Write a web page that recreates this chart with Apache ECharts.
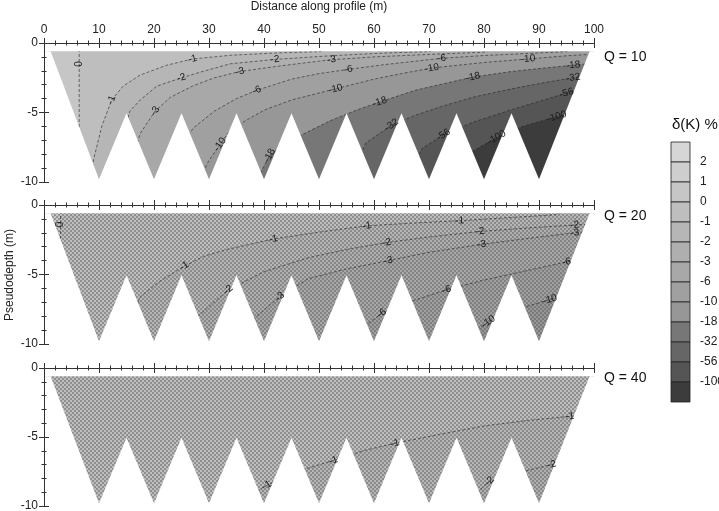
<!DOCTYPE html>
<html>
<head>
<meta charset="utf-8">
<script src="https://cdn.jsdelivr.net/npm/echarts@6/dist/echarts.min.js"></script>
<style>
  html, body { margin: 0; padding: 0; background: #fff; }
  #chart { width: 719px; height: 511px; }
</style>
</head>
<body>
<div id="chart"></div>
<script>
// contour levels of the colour scale, top to bottom
var levels = [2, 1, 0, -1, -2, -3, -6, -10, -18, -32, -56, -100];
var bandColors = ['#d6d6d6', '#cecece', '#c6c6c6', '#bebebe', '#b6b6b6', '#afafaf', '#a8a8a8',
                  '#a0a0a0', '#979797', '#777777', '#666666', '#555555', '#3c3c3c'];

// electrode layout of the pseudosection (sawtooth bottom)
var toothTips = [10, 20, 30, 40, 50, 60, 70, 80, 90];
var notchTops = [15, 25, 35, 45, 55, 65, 75, 85];
var domainTop = -0.6, tipDepth = -9.8, notchDepth = -5.05, leftTopX = 1.2, rightTopX = 99.2;

// Q = 10
var q10Levels = [0, -1, -2, -3, -6, -10, -18, -32, -56, -100];
var q10Contours = [
  [[6.4, -10], [6.4, 0]],
  [[8.6, -10], [9.0, -8.4], [10.5, -6.0], [12.3, -4.1], [14.4, -3.1], [17.5, -2.3], [22.3, -1.6], [27, -1.15], [34, -0.88], [42, -0.72], [50, -0.62], [56, 0]],
  [[13.5, -10], [15.2, -5.5], [15.6, -4.9], [17.5, -4.1], [20.5, -3.1], [25, -2.5], [28.4, -2.1], [33.8, -1.5], [42, -1.18], [52, -0.92], [62, -0.72], [70, -0.62], [74, 0]],
  [[15.5, -10], [16.5, -7.8], [17.5, -6.5], [20.2, -4.9], [23, -3.9], [27, -3.1], [31, -2.5], [35.6, -2.05], [42, -1.7], [47, -1.45], [52.3, -1.2], [60, -1.0], [70, -0.82], [80, -0.66], [84, 0]],
  [[23, -10], [26.3, -6.6], [27.2, -6.1], [31, -4.9], [35, -4.0], [38.7, -3.4], [45, -2.6], [50, -2.2], [55.3, -1.9], [62, -1.55], [72.3, -1.1], [80, -0.9], [88, -0.75], [95, -0.62], [97, 0]],
  [[28.5, -10], [29.6, -8.7], [32, -7.3], [33.8, -6.3], [37, -5.5], [40.2, -4.8], [45, -4.1], [53, -3.3], [60, -2.6], [65, -2.2], [70.5, -1.8], [80, -1.4], [88, -1.15], [95, -0.92], [100, -0.8]],
  [[38.5, -10], [41, -8.1], [44, -7.2], [46.9, -6.6], [52, -5.6], [57, -4.8], [61, -4.25], [67.5, -3.4], [73, -2.9], [78, -2.45], [85, -2.05], [91, -1.8], [96.2, -1.6], [100, -1.45]],
  [[55.5, -10], [58.5, -7.2], [63.2, -5.9], [67.5, -5.2], [72, -4.6], [78, -3.9], [85, -3.3], [91, -2.85], [96.2, -2.5], [100, -2.3]],
  [[66, -10], [68.7, -7.6], [72.6, -6.6], [78, -5.7], [85, -4.8], [90, -4.2], [95, -3.6], [100, -3.1]],
  [[75, -10], [77, -8.0], [82.3, -6.8], [87, -6.0], [93.2, -5.3], [100, -4.6]]
];
var q10Labels = [
  [0, 6.4, -1.5], [-1, 12.3, -4.1], [-1, 27, -1.15], [-2, 25, -2.5], [-2, 42, -1.2],
  [-3, 20.2, -4.9], [-3, 35.6, -2.05], [-3, 52.3, -1.2], [-6, 38.7, -3.4], [-6, 55.3, -1.9],
  [-6, 72.3, -1.1], [-10, 32, -7.3], [-10, 53, -3.3], [-10, 70.5, -1.8], [-10, 88, -1.15],
  [-18, 41, -8.1], [-18, 61, -4.2], [-18, 78, -2.45], [-18, 96.2, -1.6], [-32, 63.2, -5.9],
  [-32, 96.2, -2.5], [-56, 72.6, -6.6], [-56, 95, -3.6], [-100, 82.3, -6.8], [-100, 93.2, -5.3]
];

// Q = 20
var q20Levels = [0, -1, -2, -3, -6, -10];
var q20Contours = [
  [[3.0, -10], [3.0, 0]],
  [[14, -10], [17.5, -6.6], [21, -5.5], [25.5, -4.4], [29, -3.7], [33.2, -3.2], [41.7, -2.45], [50, -1.95], [58.7, -1.5], [67, -1.3], [75.6, -1.13], [85, -0.9], [93, -0.7], [97, 0]],
  [[24, -10], [28, -8], [33.5, -6.1], [40, -4.8], [48, -3.8], [55, -3.2], [62.3, -2.7], [70, -2.3], [79.3, -1.9], [88, -1.65], [96.5, -1.44], [100, -1.35]],
  [[35, -10], [38, -8.2], [42.9, -6.6], [48, -5.3], [55, -4.6], [62.6, -4.0], [70, -3.4], [79.6, -2.83], [88, -2.4], [96.5, -2.0], [100, -1.85]],
  [[55, -10], [58, -8.8], [61.4, -7.8], [67, -6.9], [73.2, -6.1], [80, -5.4], [88, -4.7], [95, -4.1], [100, -3.8]],
  [[75, -10], [80.8, -8.4], [86, -7.5], [92, -6.8], [100, -6.0]]
];
var q20Labels = [
  [0, 3.0, -1.4], [-1, 25.5, -4.4], [-1, 41.7, -2.45], [-1, 58.7, -1.5], [-1, 75.6, -1.13],
  [-2, 33.5, -6.1], [-2, 62.3, -2.7], [-2, 79.3, -1.9], [-2, 96.5, -1.44], [-3, 42.9, -6.6],
  [-3, 62.6, -4.0], [-3, 79.6, -2.83], [-3, 96.5, -2.0], [-6, 61.4, -7.8], [-6, 73.2, -6.1],
  [-6, 95, -4.1], [-10, 80.8, -8.4], [-10, 92, -6.8]
];

// Q = 40
var q40Levels = [-1, -2];
var q40Contours = [
  [[34, -10], [40.5, -8.5], [46, -7.5], [52.6, -6.7], [58, -6.0], [63.8, -5.45], [72, -4.8], [80, -4.2], [88, -3.8], [95.6, -3.5], [100, -3.3]],
  [[76, -10], [81, -8.2], [86, -7.6], [92.3, -7.0], [100, -6.4]]
];
var q40Labels = [
  [-1, 40.5, -8.5], [-1, 52.6, -6.7], [-1, 63.8, -5.45], [-1, 95.6, -3.5], [-2, 81, -8.2], [-2, 92.3, -7.0]
];

var panels = [
  { q: 'Q = 10', levels: q10Levels, contours: q10Contours, labels: q10Labels, base: 2, dots: false },
  { q: 'Q = 20', levels: q20Levels, contours: q20Contours, labels: q20Labels, base: 2, dots: true },
  { q: 'Q = 40', levels: q40Levels, contours: q40Contours, labels: q40Labels, base: 3, dots: true }
];

var FONT = 'Liberation Sans, Arial, Helvetica, sans-serif';

// halftone dot pattern for the stippled panels
var patternCache = {};
function dotPattern(base) {
  if (patternCache[base]) return patternCache[base];
  var c = document.createElement('canvas');
  c.width = 4; c.height = 4;
  var g = c.getContext('2d');
  g.fillStyle = base; g.fillRect(0, 0, 4, 4);
  g.fillStyle = '#555';
  g.beginPath(); g.arc(1, 1, 0.8, 0, Math.PI * 2); g.fill();
  g.beginPath(); g.arc(3, 3, 0.8, 0, Math.PI * 2); g.fill();
  patternCache[base] = { image: c, repeat: 'repeat' };
  return patternCache[base];
}
function colorFor(band, dots) {
  return dots ? dotPattern(bandColors[band]) : bandColors[band];
}

// white masks outside the sawtooth domain
var maskPolys = [
  [[0, 0], [100, 0], [100, domainTop], [0, domainTop]],
  [[0, domainTop], [leftTopX, domainTop], [toothTips[0], tipDepth], [toothTips[0], -10], [0, -10]],
  [[toothTips[toothTips.length - 1], tipDepth], [rightTopX, domainTop], [100, domainTop], [100, -10], [toothTips[toothTips.length - 1], -10]]
];
notchTops.forEach(function (n) {
  maskPolys.push([[n - 5, tipDepth], [n, notchDepth], [n + 5, tipDepth], [n + 5, -10], [n - 5, -10]]);
});

var grids = [
  { left: 44, top: 43, width: 550, height: 139, outerBoundsMode: 'none' },
  { left: 44, top: 205, width: 550, height: 139, outerBoundsMode: 'none' },
  { left: 44, top: 368, width: 550, height: 138, outerBoundsMode: 'none' },
  { left: 671, top: 142, width: 19, height: 260, outerBoundsMode: 'none' }
];

var xAxes = [], yAxes = [], series = [];
var axisLine = { lineStyle: { color: '#333', width: 1 } };

panels.forEach(function (panel, p) {
  ['top', 'bottom'].forEach(function (pos) {
    xAxes.push({
      gridIndex: p, type: 'value', position: pos, min: 0, max: 100, interval: 10, z: 10,
      axisLine: axisLine,
      axisTick: { inside: true, length: 5, lineStyle: { color: '#333' } },
      minorTick: { show: true, splitNumber: 5, length: 2.5, lineStyle: { color: '#333' } },
      splitLine: { show: false },
      axisLabel: { show: p === 0 && pos === 'top', margin: 7, fontSize: 12, color: '#222', fontFamily: FONT }
    });
  });
  ['left', 'right'].forEach(function (pos) {
    yAxes.push({
      gridIndex: p, type: 'value', position: pos, min: -10, max: 0, interval: 5, z: 10,
      axisLine: axisLine,
      axisTick: { inside: true, length: 5, lineStyle: { color: '#333' } },
      minorTick: { show: true, splitNumber: 5, length: 2.5, lineStyle: { color: '#333' } },
      splitLine: { show: false },
      axisLabel: { show: pos === 'left', margin: 6, fontSize: 12, color: '#222', fontFamily: FONT }
    });
  });

  var ax = { xAxisIndex: 2 * p, yAxisIndex: 2 * p };

  // filled bands
  series.push(Object.assign({
    type: 'custom', z: 1, silent: true,
    data: [[0]].concat(panel.contours.map(function (c, i) { return [i + 1]; })),
    renderItem: function (params, api) {
      var i = api.value(0) - 1, pts, band;
      if (i < 0) {
        pts = [[0, 0], [100, 0], [100, -10], [0, -10]];
        band = panel.base;
      } else {
        var c = panel.contours[i];
        pts = c.slice();
        var last = c[c.length - 1];
        if (last[1] >= 0 && last[0] < 100) pts.push([100, 0]);
        pts.push([100, -10]);
        band = levels.indexOf(panel.levels[i]) + 1;
      }
      return {
        type: 'polygon',
        shape: { points: pts.map(function (d) { return api.coord(d); }) },
        style: { fill: colorFor(band, panel.dots) }
      };
    }
  }, ax));

  // contour lines
  panel.contours.forEach(function (c) {
    series.push(Object.assign({
      type: 'line', z: 2, silent: true, data: c, showSymbol: false, symbol: 'none',
      lineStyle: { color: '#222', width: 0.7, type: [3, 2], opacity: 0.85 }
    }, ax));
  });

  // mask outside the pseudosection
  series.push(Object.assign({
    type: 'custom', z: 3, silent: true,
    data: maskPolys.map(function (m, i) { return [i]; }),
    renderItem: function (params, api) {
      var m = maskPolys[api.value(0)];
      return {
        type: 'polygon',
        shape: { points: m.map(function (d) { return api.coord(d); }) },
        style: { fill: '#fff' }
      };
    }
  }, ax));

  // contour labels, placed on the nearest point of their contour
  series.push(Object.assign({
    type: 'custom', z: 4, silent: true,
    data: panel.labels.map(function (l) { return [l[1], l[2], l[0]]; }),
    renderItem: function (params, api) {
      var lv = api.value(2);
      var c = panel.contours[panel.levels.indexOf(lv)];
      var P = api.coord([api.value(0), api.value(1)]);
      var px = c.map(function (d) { return api.coord(d); });
      var best = null;
      for (var k = 0; k < px.length - 1; k++) {
        var a = px[k], b = px[k + 1];
        var dx = b[0] - a[0], dy = b[1] - a[1];
        var L2 = dx * dx + dy * dy || 1;
        var t = ((P[0] - a[0]) * dx + (P[1] - a[1]) * dy) / L2;
        t = Math.max(0, Math.min(1, t));
        var qx = a[0] + t * dx, qy = a[1] + t * dy;
        var d = (qx - P[0]) * (qx - P[0]) + (qy - P[1]) * (qy - P[1]);
        if (!best || d < best.d) best = { d: d, x: qx, y: qy, ang: Math.atan2(-dy, dx) };
      }
      var ang = best.ang;
      if (ang > Math.PI / 2) ang -= Math.PI;
      if (ang < -Math.PI / 2) ang += Math.PI;
      return {
        type: 'text', x: best.x, y: best.y, rotation: ang,
        style: {
          text: String(lv), fill: '#1a1a1a', fontSize: 10, fontFamily: FONT,
          align: 'center', verticalAlign: 'middle'
        }
      };
    }
  }, ax));
});

// colour scale
xAxes.push({ gridIndex: 3, type: 'value', min: 0, max: 1, show: false });
yAxes.push({
  gridIndex: 3, type: 'value', min: 0, max: 13, interval: 1, inverse: true, position: 'right',
  axisLine: { show: false }, axisTick: { show: false }, splitLine: { show: false },
  axisLabel: {
    margin: 10, fontSize: 12, color: '#222', fontFamily: FONT,
    formatter: function (v) { return (v >= 1 && v <= levels.length) ? String(levels[v - 1]) : ''; }
  }
});
series.push({
  type: 'custom', xAxisIndex: 6, yAxisIndex: 6, z: 2, silent: true,
  data: bandColors.map(function (c, i) { return [i]; }),
  renderItem: function (params, api) {
    var i = api.value(0);
    var a = api.coord([0, i]), b = api.coord([1, i + 1]);
    return {
      type: 'rect',
      shape: { x: a[0], y: Math.min(a[1], b[1]), width: b[0] - a[0], height: Math.abs(b[1] - a[1]) },
      style: { fill: bandColors[i], stroke: '#222', lineWidth: 0.8 }
    };
  }
});

var chart = echarts.init(document.getElementById('chart'));
chart.setOption({
  animation: false,
  backgroundColor: '#fff',
  textStyle: { fontFamily: FONT },
  grid: grids,
  xAxis: xAxes,
  yAxis: yAxes,
  series: series,
  graphic: [
    { type: 'text', x: 319, y: 7, style: { text: 'Distance along profile (m)', fontSize: 12, fill: '#222', fontFamily: FONT, align: 'center', verticalAlign: 'middle' } },
    { type: 'text', x: 10, y: 275, rotation: Math.PI / 2, style: { text: 'Pseudodepth (m)', fontSize: 12, fill: '#222', fontFamily: FONT, align: 'center', verticalAlign: 'middle' } },
    { type: 'text', left: 604, top: 50, style: { text: panels[0].q, fontSize: 14, fill: '#111', fontFamily: FONT } },
    { type: 'text', left: 604, top: 209, style: { text: panels[1].q, fontSize: 14, fill: '#111', fontFamily: FONT } },
    { type: 'text', left: 604, top: 371, style: { text: panels[2].q, fontSize: 14, fill: '#111', fontFamily: FONT } },
    { type: 'text', left: 672, top: 117, style: { text: 'δ(K) %', fontSize: 15, fill: '#111', fontFamily: FONT } }
  ]
});
window.addEventListener('resize', function () { chart.resize(); });
</script>
</body>
</html>
